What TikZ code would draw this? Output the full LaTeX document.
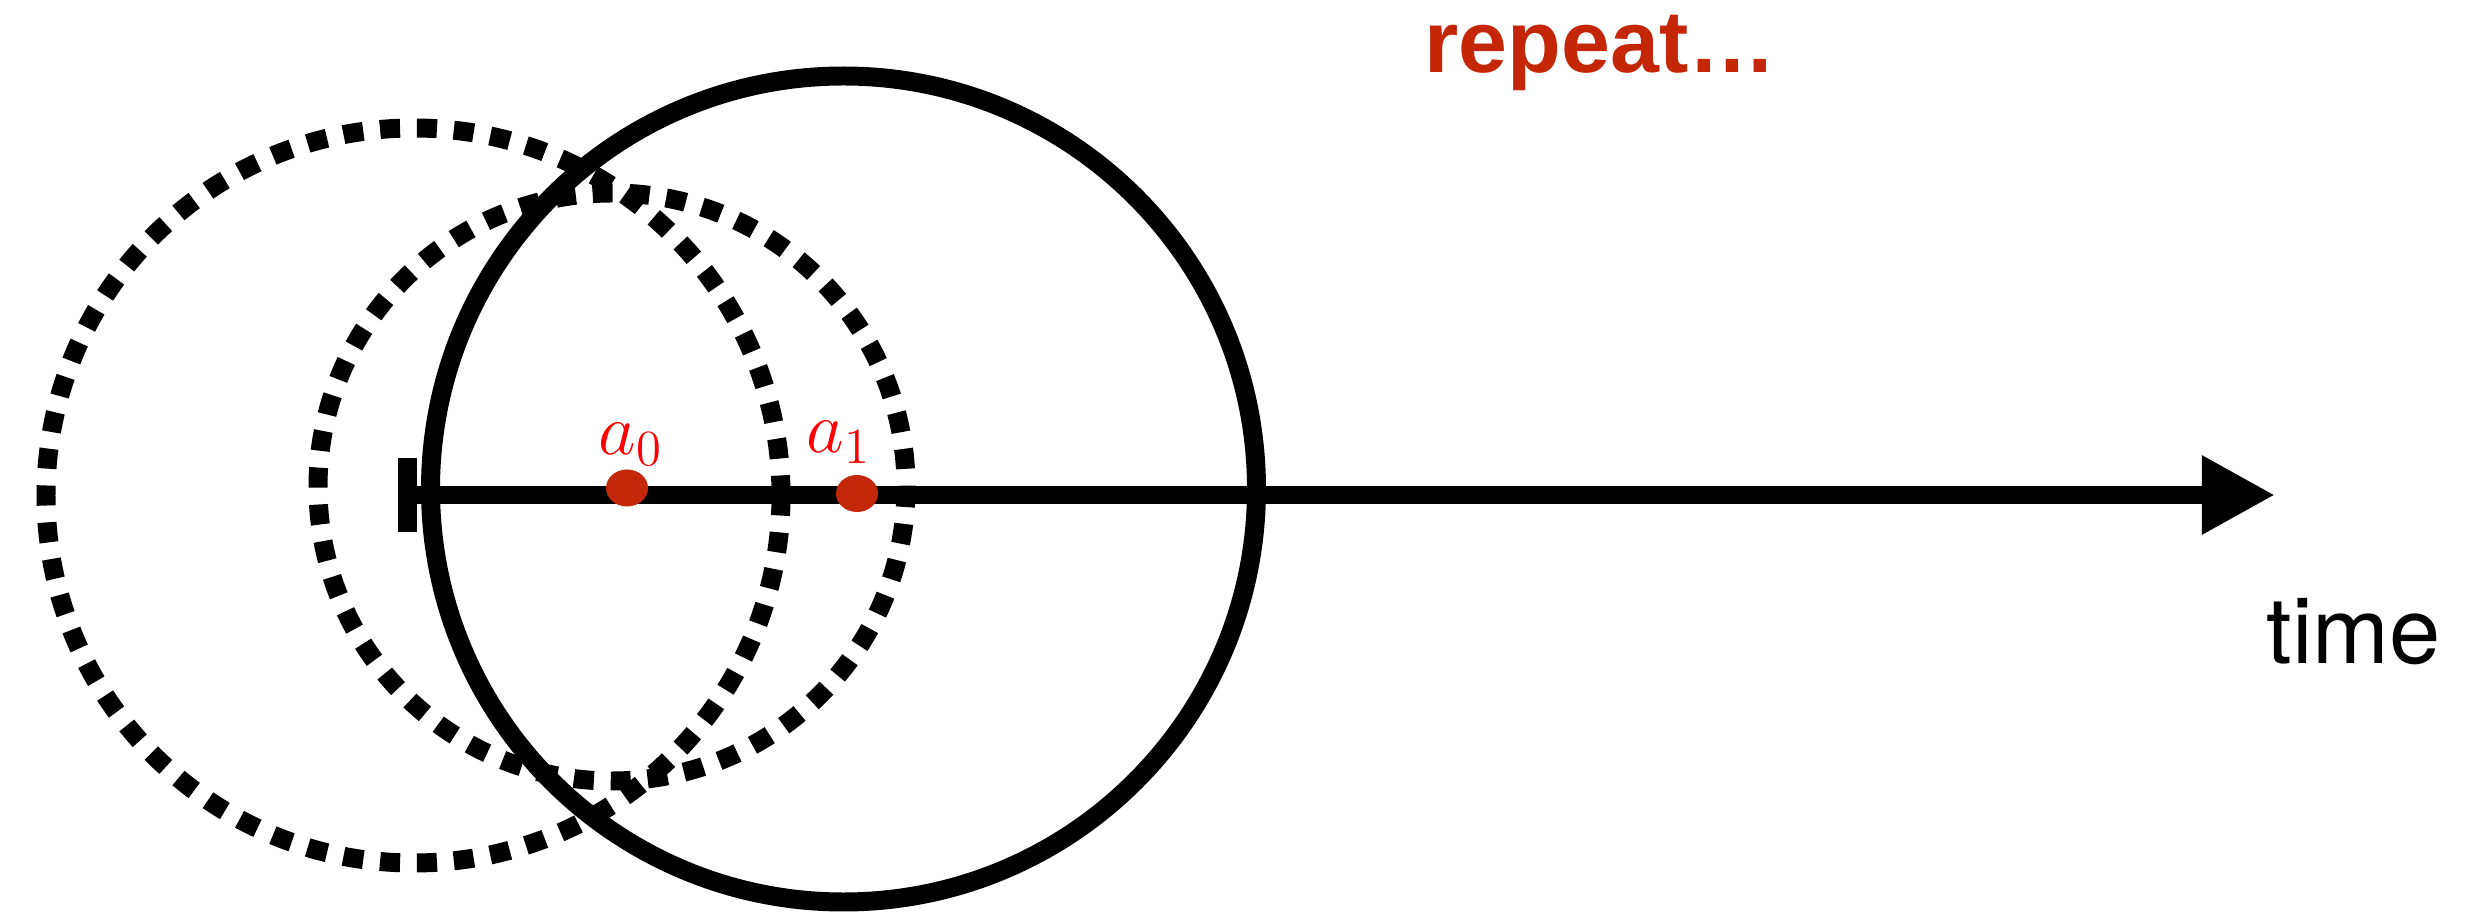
\documentclass[tikz,border=0pt]{standalone}
\usepackage{fontspec}
\setmainfont{TeX Gyre Heros}
\newfontfamily\boldsans{Liberation Sans}
\usetikzlibrary{arrows.meta}
\definecolor{dotred}{RGB}{196,40,10}
\definecolor{repeatred}{RGB}{196,38,8}
\tikzset{
  solidcirc/.style={draw=black, line width=5.4pt},
  dashcirc/.style={draw=black, line width=5.4pt, dash pattern=on 5.7pt off 4.8pt},
  axisline/.style={draw=black, line width=5.1pt, -{Triangle[length=0.73cm,width=0.74cm]}},
  tickline/.style={draw=black, line width=5.4pt},
  reddot/.style={fill=dotred},
  alabel/.style={anchor=base west, inner sep=0pt, text=red, font=\fontsize{20.5}{24}\selectfont},
}
\begin{document}
\begin{tikzpicture}[x=0.01cm, y=-0.01cm]
\useasboundingbox (0,0) rectangle (2467,913);
% centres
\coordinate (c1) at (413.5,495.5);
\coordinate (c2) at (612,487);
\coordinate (c3) at (843.5,489);
% circles
\draw[dashcirc] (c1) circle [radius=367.5];
\draw[dashcirc] (c2) circle [radius=294];
\draw[solidcirc] (c3) circle [radius=413];
% axis
\coordinate (start) at (407.5,495);
\coordinate (end) at (2275,495);
\coordinate (tickT) at (407.5,458);
\coordinate (tickB) at (407.5,532);
\draw[tickline] (tickT) -- (tickB);
\draw[axisline] (start) -- (end);
% points
\coordinate (a0) at (627,488);
\coordinate (a1) at (857,493.5);
\fill[reddot] (a0) ellipse [x radius=21, y radius=18.5];
\fill[reddot] (a1) ellipse [x radius=21, y radius=18.5];
\node[alabel] (l0) at (598,455) {$a_0$};
\node[alabel] (l1) at (806,453) {$a_1$};
% texts
\node[anchor=base west, inner sep=0pt, text=repeatred, font=\boldsans\bfseries\fontsize{25}{30}\selectfont] (rep) at (1424,73) {repeat…};
\node[anchor=base west, inner sep=0pt, font=\fontsize{26.2}{31}\selectfont] (time) at (2266,663) {time};
\end{tikzpicture}
\end{document}
